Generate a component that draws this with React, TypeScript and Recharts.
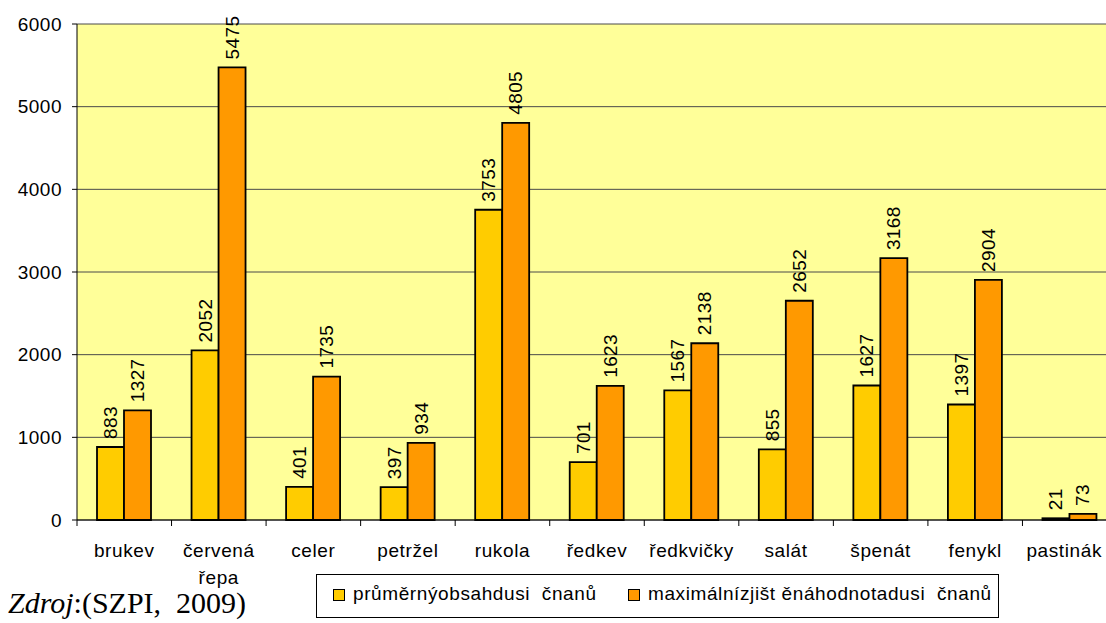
import { BarChart, Bar, XAxis, YAxis, CartesianGrid, LabelList } from "recharts";

// vegetables
const categories = [
  "brukev",
  "červená řepa",
  "celer",
  "petržel",
  "rukola",
  "ředkev",
  "ředkvičky",
  "salát",
  "špenát",
  "fenykl",
  "pastinák",
];

// average nitrate content
const averageValues = [883, 2052, 401, 397, 3753, 701, 1567, 855, 1627, 1397, 21];

// maximum found value
const maximumValues = [1327, 5475, 1735, 934, 4805, 1623, 2138, 2652, 3168, 2904, 73];

const yTicks = [0, 1000, 2000, 3000, 4000, 5000, 6000];

const averageName = "průměrnýobsahdusi  čnanů";
const maximumName = "maximálnízjišt ěnáhodnotadusi  čnanů";

const FONT = "'Liberation Sans', Arial, sans-serif";
const PAGE_W = 1106;
const CHART_W = 1117;
const CHART_H = 623;
const Y_AXIS_W = 77;
const X_AXIS_H = 103;
const PLOT_BOTTOM = CHART_H - X_AXIS_H;
const BAND = (CHART_W - Y_AXIS_W) / categories.length;

const chartData = categories.map((name, i) => ({
  name,
  average: averageValues[i],
  maximum: maximumValues[i],
}));

const CategoryTick = (props: any) => {
  const { x, payload } = props;
  const lines = String(payload.value).split(" ");
  const left = x - BAND / 2;
  // keep the last label inside the visible page, like the original does
  const clipped = x + BAND / 2 > PAGE_W;
  const tx = clipped ? PAGE_W - 4 : x;
  const anchor = clipped ? "end" : "middle";
  return (
    <g>
      <line x1={left} x2={left} y1={PLOT_BOTTOM} y2={PLOT_BOTTOM + 6} stroke="#000" />
      <text
        x={tx}
        y={PLOT_BOTTOM + 37}
        textAnchor={anchor}
        fontFamily={FONT}
        fontSize={19}
        letterSpacing={0.6}
        fill="#000"
      >
        {lines.map((line, i) => (
          <tspan key={i} x={tx} dy={i === 0 ? 0 : 27}>
            {line}
          </tspan>
        ))}
      </text>
    </g>
  );
};

const renderValueLabel = (props: any) => {
  const { x, y, width, value } = props;
  const cx = Number(x) + Number(width) / 2;
  const ty = Number(y) - 8;
  return (
    <text
      x={cx}
      y={ty}
      transform={`rotate(-90 ${cx} ${ty})`}
      textAnchor="start"
      dominantBaseline="central"
      fontFamily={FONT}
      fontSize={19}
      letterSpacing={0.4}
      fill="#000"
    >
      {value}
    </text>
  );
};

export default function App() {
  return (
    <div
      style={{
        position: "absolute",
        left: 0,
        top: 0,
        width: PAGE_W,
        height: 623,
        overflow: "hidden",
        background: "#fff",
      }}
    >
      <BarChart
        width={CHART_W}
        height={CHART_H}
        data={chartData}
        margin={{ top: 24, right: 0, bottom: 0, left: 0 }}
        barCategoryGap={20}
        barGap={0}
      >
        <CartesianGrid
          vertical={false}
          stroke="#4a4a4a"
          fill="#FFFF99"
          fillOpacity={1}
        />
        <XAxis
          dataKey="name"
          height={X_AXIS_H}
          axisLine={{ stroke: "#000" }}
          tickLine={false}
          tick={<CategoryTick />}
          interval={0}
        />
        <YAxis
          width={Y_AXIS_W}
          domain={[0, 6000]}
          ticks={yTicks}
          interval={0}
          axisLine={{ stroke: "#000" }}
          tickLine={{ stroke: "#000" }}
          tickSize={5}
          tickMargin={10}
          tick={{ fill: "#000", fontSize: 19, fontFamily: FONT, letterSpacing: 0.5 }}
        />
        <Bar
          dataKey="average"
          name={averageName}
          fill="#FFCC00"
          stroke="#000"
          strokeWidth={1.8}
          isAnimationActive={false}
        >
          <LabelList dataKey="average" content={renderValueLabel} />
        </Bar>
        <Bar
          dataKey="maximum"
          name={maximumName}
          fill="#FF9900"
          stroke="#000"
          strokeWidth={1.8}
          isAnimationActive={false}
        >
          <LabelList dataKey="maximum" content={renderValueLabel} />
        </Bar>
      </BarChart>

      <div
        style={{
          position: "absolute",
          left: 316,
          top: 574,
          width: 681,
          height: 42,
          border: "1px solid #000",
          background: "#fff",
          fontFamily: FONT,
          fontSize: 19,
          letterSpacing: 0.6,
          color: "#000",
        }}
      >
        {[
          { name: averageName, color: "#FFCC00", square: 16, text: 36 },
          { name: maximumName, color: "#FF9900", square: 311, text: 331 },
        ].map((item) => (
          <div key={item.name}>
            <div
              style={{
                position: "absolute",
                left: item.square,
                top: 14,
                width: 10,
                height: 10,
                border: "1.5px solid #000",
                background: item.color,
              }}
            />
            <div
              style={{
                position: "absolute",
                left: item.text,
                top: 8,
                lineHeight: "22px",
                whiteSpace: "pre",
              }}
            >
              {item.name}
            </div>
          </div>
        ))}
      </div>

      <div
        style={{
          position: "absolute",
          left: 8,
          top: 588,
          fontFamily: "'Liberation Serif', 'Times New Roman', serif",
          fontSize: 30,
          lineHeight: "30px",
          whiteSpace: "pre",
          color: "#000",
        }}
      >
        <i>Zdroj</i>:(SZPI,  2009)
      </div>
    </div>
  );
}
